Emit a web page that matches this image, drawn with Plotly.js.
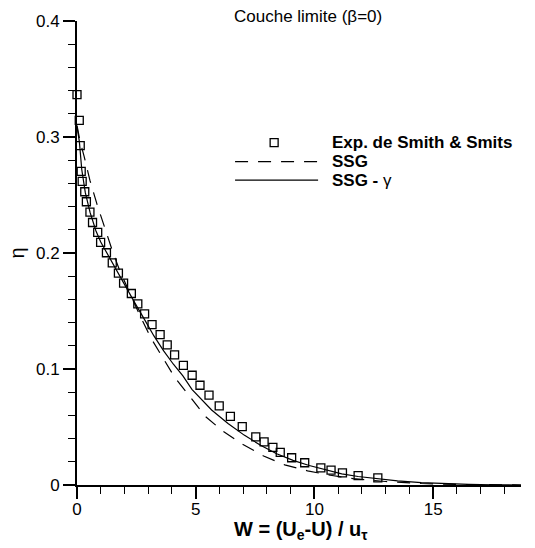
<!DOCTYPE html>
<html>
<head>
<meta charset="utf-8">
<script src="https://cdn.plot.ly/plotly-3.0.1.min.js"></script>
<style>html,body{margin:0;padding:0;background:#fff;}#chart{width:535px;height:548px;}</style>
</head>
<body>
<div id="chart"></div>
<script>
// Experimental data (Smith & Smits)
var expW   = [0.0,0.095,0.136,0.177,0.218,0.327,0.395,0.545,0.654,0.872,0.995,1.24,1.485,1.744,1.962,2.289,2.561,2.847,3.161,3.501,3.80,4.11,4.48,4.85,5.18,5.56,5.99,6.46,6.96,7.53,7.88,8.25,8.56,9.04,9.59,10.27,10.70,11.18,11.84,12.67];
var expEta = [0.3365,0.3144,0.2925,0.2703,0.2617,0.2528,0.2442,0.2353,0.2263,0.2177,0.2091,0.2002,0.1915,0.1826,0.174,0.1651,0.1562,0.1475,0.1383,0.1297,0.1208,0.1122,0.1032,0.0946,0.086,0.0774,0.0682,0.0592,0.0503,0.0415,0.0372,0.0325,0.0282,0.0235,0.0192,0.0148,0.0128,0.0104,0.0081,0.0061];

// SSG model (dashed)
var ssgW   = [0,0.12,0.30,0.545,0.845,1.158,1.48,1.785,2.2,2.65,3.12,3.62,4.11,4.73,5.41,6.12,6.97,7.86,8.75,9.71,10.67,11.63,13.0,14.5,16.0,18.7];
var ssgEta = [0.31,0.297,0.2833,0.2626,0.2419,0.2218,0.2025,0.1855,0.166,0.146,0.1265,0.1093,0.0929,0.0768,0.059,0.0468,0.0352,0.025,0.0174,0.0122,0.0084,0.0055,0.003,0.0013,0.0005,0.0];

// SSG - gamma model (solid)
var ssggW   = [0,0.1,0.2,0.35,0.55,0.8,1.0,1.48,1.96,2.43,2.84,3.24,3.65,4.06,4.46,4.84,5.67,6.36,7.04,7.73,8.41,9.10,9.78,10.47,11.15,11.84,12.66,13.5,14.5,15.5,16.5,17.5,18.7];
var ssggEta = [0.309,0.296,0.272,0.252,0.235,0.219,0.2095,0.1916,0.1744,0.1572,0.1428,0.1285,0.1156,0.1041,0.094,0.0825,0.0647,0.0531,0.043,0.0343,0.027,0.0212,0.0168,0.0131,0.0096,0.0073,0.0052,0.0035,0.002,0.001,0.0005,0.0002,0.0];

var legendLabels = ['<b>Exp. de Smith &amp; Smits</b>', '<b>SSG</b>', '<b>SSG - </b>γ'];
var xTitle = '<b>W = (U<sub>e</sub>-U) / u<sub>τ</sub></b>';
var yTitle = 'η';
var chartTitle = 'Couche limite (β=0)';

var FONT = 'Liberation Sans, Arial, sans-serif';

var traces = [
  {x: ssgW, y: ssgEta, mode: 'lines', line: {color: 'black', width: 1.2, dash: '13px,10px'}, showlegend: false, hoverinfo: 'skip'},
  {x: ssggW, y: ssggEta, mode: 'lines', line: {color: 'black', width: 1.2}, showlegend: false, hoverinfo: 'skip'},
  {x: expW, y: expEta, mode: 'markers', marker: {symbol: 'square-open', size: 8, color: 'black', line: {width: 1.3, color: 'black'}}, showlegend: false, cliponaxis: false}
];

// custom legend (paper coordinates)
var lgX0 = 0.356, lgX1 = 0.543, lgTextX = 0.570;
var lgY = [0.738, 0.697, 0.657];
var sqX = 0.444, sqHalfX = 0.009, sqHalfY = 0.0086;

var shapes = [
  {type: 'rect', xref: 'paper', yref: 'paper', x0: sqX - sqHalfX, x1: sqX + sqHalfX, y0: lgY[0] - sqHalfY, y1: lgY[0] + sqHalfY, line: {color: 'black', width: 1.3}},
  {type: 'line', xref: 'paper', yref: 'paper', x0: lgX0, x1: lgX1, y0: lgY[1], y1: lgY[1], line: {color: 'black', width: 1.2, dash: '13px,10px'}},
  {type: 'line', xref: 'paper', yref: 'paper', x0: lgX0, x1: lgX1, y0: lgY[2], y1: lgY[2], line: {color: 'black', width: 1.2}}
];

var annotations = [
  {xref: 'paper', yref: 'paper', x: 0.52, y: 1.009, xanchor: 'center', yanchor: 'middle', showarrow: false, text: chartTitle, font: {family: FONT, size: 17, color: 'black'}},
  {xref: 'paper', yref: 'paper', x: 0.505, y: -0.097, xanchor: 'center', yanchor: 'middle', showarrow: false, text: xTitle, font: {family: FONT, size: 20, color: 'black'}}
];
for (var i = 0; i < legendLabels.length; i++) {
  annotations.push({xref: 'paper', yref: 'paper', x: lgTextX, y: lgY[i], xanchor: 'left', yanchor: 'middle', showarrow: false, text: legendLabels[i], font: {family: FONT, size: 17, color: 'black'}});
}

var axisCommon = {
  showline: true, linewidth: 2, linecolor: 'black', mirror: false,
  ticks: 'outside', ticklen: 12, tickwidth: 2, tickcolor: 'black',
  showgrid: false, zeroline: false,
  tickfont: {family: FONT, size: 17, color: 'black'}
};

var layout = {
  width: 535, height: 548,
  margin: {l: 77, r: 14, t: 21, b: 63},
  paper_bgcolor: 'white', plot_bgcolor: 'white',
  font: {family: FONT, color: 'black'},
  showlegend: false,
  xaxis: Object.assign({}, axisCommon, {
    range: [0, 18.7], tick0: 0, dtick: 5, ticklabelstandoff: -4,
    minor: {dtick: 1, ticks: 'outside', ticklen: 7, tickwidth: 1, tickcolor: 'black', showgrid: false}
  }),
  yaxis: Object.assign({}, axisCommon, {
    range: [0, 0.4], tick0: 0, dtick: 0.1,
    minor: {dtick: 0.02, ticks: 'outside', ticklen: 7, tickwidth: 1, tickcolor: 'black', showgrid: false},
    title: {text: yTitle, font: {family: FONT, size: 20, color: 'black'}, standoff: 6}
  }),
  shapes: shapes,
  annotations: annotations
};

Plotly.newPlot('chart', traces, layout, {displayModeBar: false, staticPlot: true});
</script>
</body>
</html>
